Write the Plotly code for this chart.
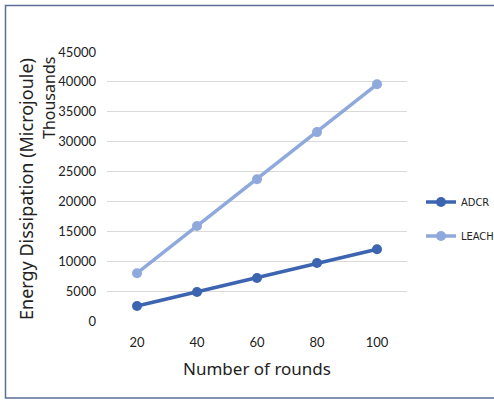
import plotly.graph_objects as go

rounds = ["20", "40", "60", "80", "100"]
adcr = [2500, 4850, 7200, 9700, 12000]
leach = [8000, 15900, 23700, 31600, 39600]
y_ticks = [0, 5000, 10000, 15000, 20000, 25000, 30000, 35000, 40000, 45000]
y_labels = [str(v) for v in y_ticks]

FONT = "Lato, Noto Sans, sans-serif"
TFONT = "Noto Sans, sans-serif"
LFONT = "DejaVu Sans Condensed, Liberation Sans Narrow, Lato, sans-serif"
L, R, T, B = 107, 87, 52, 79
W, H = 494, 400
pw, ph = W - L - R, H - T - B

fig = go.Figure()
fig.add_trace(go.Scatter(x=rounds, y=adcr, name="ADCR", mode="lines+markers",
                         legendgroup="a",
                         line=dict(color="#3c64b1", width=3.5),
                         marker=dict(size=10, color="#3c64b1")))
fig.add_trace(go.Scatter(x=rounds, y=leach, name="LEACH", mode="lines+markers",
                         legendgroup="b",
                         line=dict(color="#8fa9dc", width=3.5),
                         marker=dict(size=10, color="#8fa9dc")))

def px_x(x):
    return (x - L) / pw

def px_y(y):
    return (H - B - y) / ph

fig.update_layout(
    width=W, height=H,
    margin=dict(l=L, r=R, t=T, b=B, autoexpand=False),
    paper_bgcolor="white", plot_bgcolor="white",
    font=dict(family=FONT, size=13, color="#222"),
    showlegend=True,
    legend=dict(x=px_x(421), y=px_y(219), yanchor="middle", xanchor="left",
                font=dict(family=LFONT, size=11, color="#222"),
                itemwidth=30, traceorder="grouped", tracegroupgap=15,
                bgcolor="rgba(0,0,0,0)", borderwidth=0),
    xaxis=dict(type="category", range=[-0.5, 4.5], showgrid=False, showline=False,
               zeroline=False, ticks="", automargin=False, ticklabelstandoff=12,
               tickfont=dict(family=FONT, size=13, color="#222"),
               title=dict(text="Number of rounds", font=dict(family=TFONT, size=17, color="#222"),
                          standoff=14)),
    yaxis=dict(range=[0, 45000], tickvals=y_ticks, ticktext=y_labels, showgrid=True,
               gridcolor="#d9d9d9", automargin=False,
               gridwidth=1, zeroline=False, showline=False, ticks="",
               ticklabelstandoff=10,
               tickfont=dict(family=FONT, size=13, color="#222")),
    shapes=[dict(type="rect", xref="paper", yref="paper",
                 x0=px_x(5.5), x1=px_x(510), y0=px_y(398), y1=px_y(5.5),
                 line=dict(color="#5b6e96", width=1.5))],
    annotations=[
        dict(text="Energy Dissipation (Microjoule)", xref="paper", yref="paper",
             x=px_x(26), y=px_y(189), textangle=-90, showarrow=False,
             font=dict(family=TFONT, size=18, color="#222"),
             xanchor="center", yanchor="middle"),
        dict(text="Thousands", xref="paper", yref="paper",
             x=px_x(49), y=px_y(98), textangle=-90, showarrow=False,
             font=dict(family=TFONT, size=16, color="#222"),
             xanchor="center", yanchor="middle"),
    ],
)

fig.write_html("out.html", config={"displayModeBar": False},
               post_script="document.body.style.margin='0';document.body.style.padding='0';")
